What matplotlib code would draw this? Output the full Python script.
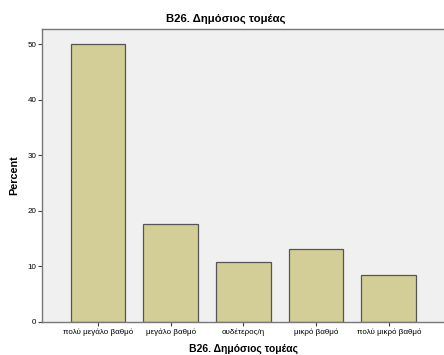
import matplotlib
matplotlib.use("Agg")
import matplotlib.pyplot as plt

categories = ["πολύ μεγάλο βαθμό", "μεγάλο βαθμό", "ουδέτερος/η",
              "μικρό βαθμό", "πολύ μικρό βαθμό"]
percent = [50.0, 17.6, 10.8, 13.1, 8.5]
yticks = [0, 10, 20, 30, 40, 50]

plt.rcParams['font.family'] = ['Liberation Sans', 'DejaVu Sans']

fig = plt.figure(figsize=(4.44, 3.55), dpi=100)
ax = fig.add_axes([42 / 444, 33 / 355, 1 - 42 / 444, 293 / 355])
ax.set_facecolor("#F0F0F0")

x = list(range(len(categories)))
ax.bar(x, percent, width=0.75, color="#D3CE97", edgecolor="#555555",
       linewidth=0.9, zorder=2)

ax.set_xlim(-0.77, 4.76)
ax.set_ylim(0, 52.7)
ax.set_yticks(yticks)
ax.set_xticks(x)
ax.set_xticklabels(categories, fontsize=5.8)
ax.tick_params(axis="y", labelsize=5.8, length=3, width=0.8, color="#444444", pad=1)
ax.tick_params(axis="x", length=3, width=0.8, color="#444444", pad=2)

for side in ["left", "bottom", "top"]:
    ax.spines[side].set_color("#777777")
    ax.spines[side].set_linewidth(1.0)
ax.spines["right"].set_visible(False)

ax.set_ylabel("Percent", fontsize=7.8, fontweight="bold", labelpad=6)
ax.set_xlabel("B26. Δημόσιος τομέας", fontsize=7.5, fontweight="bold", labelpad=5)
fig.text(226 / 444, 1 - 19 / 355, "B26. Δημόσιος τομέας", fontsize=8.2,
         fontweight="bold", ha="center", va="center")

fig.savefig("out.png", dpi=100)
